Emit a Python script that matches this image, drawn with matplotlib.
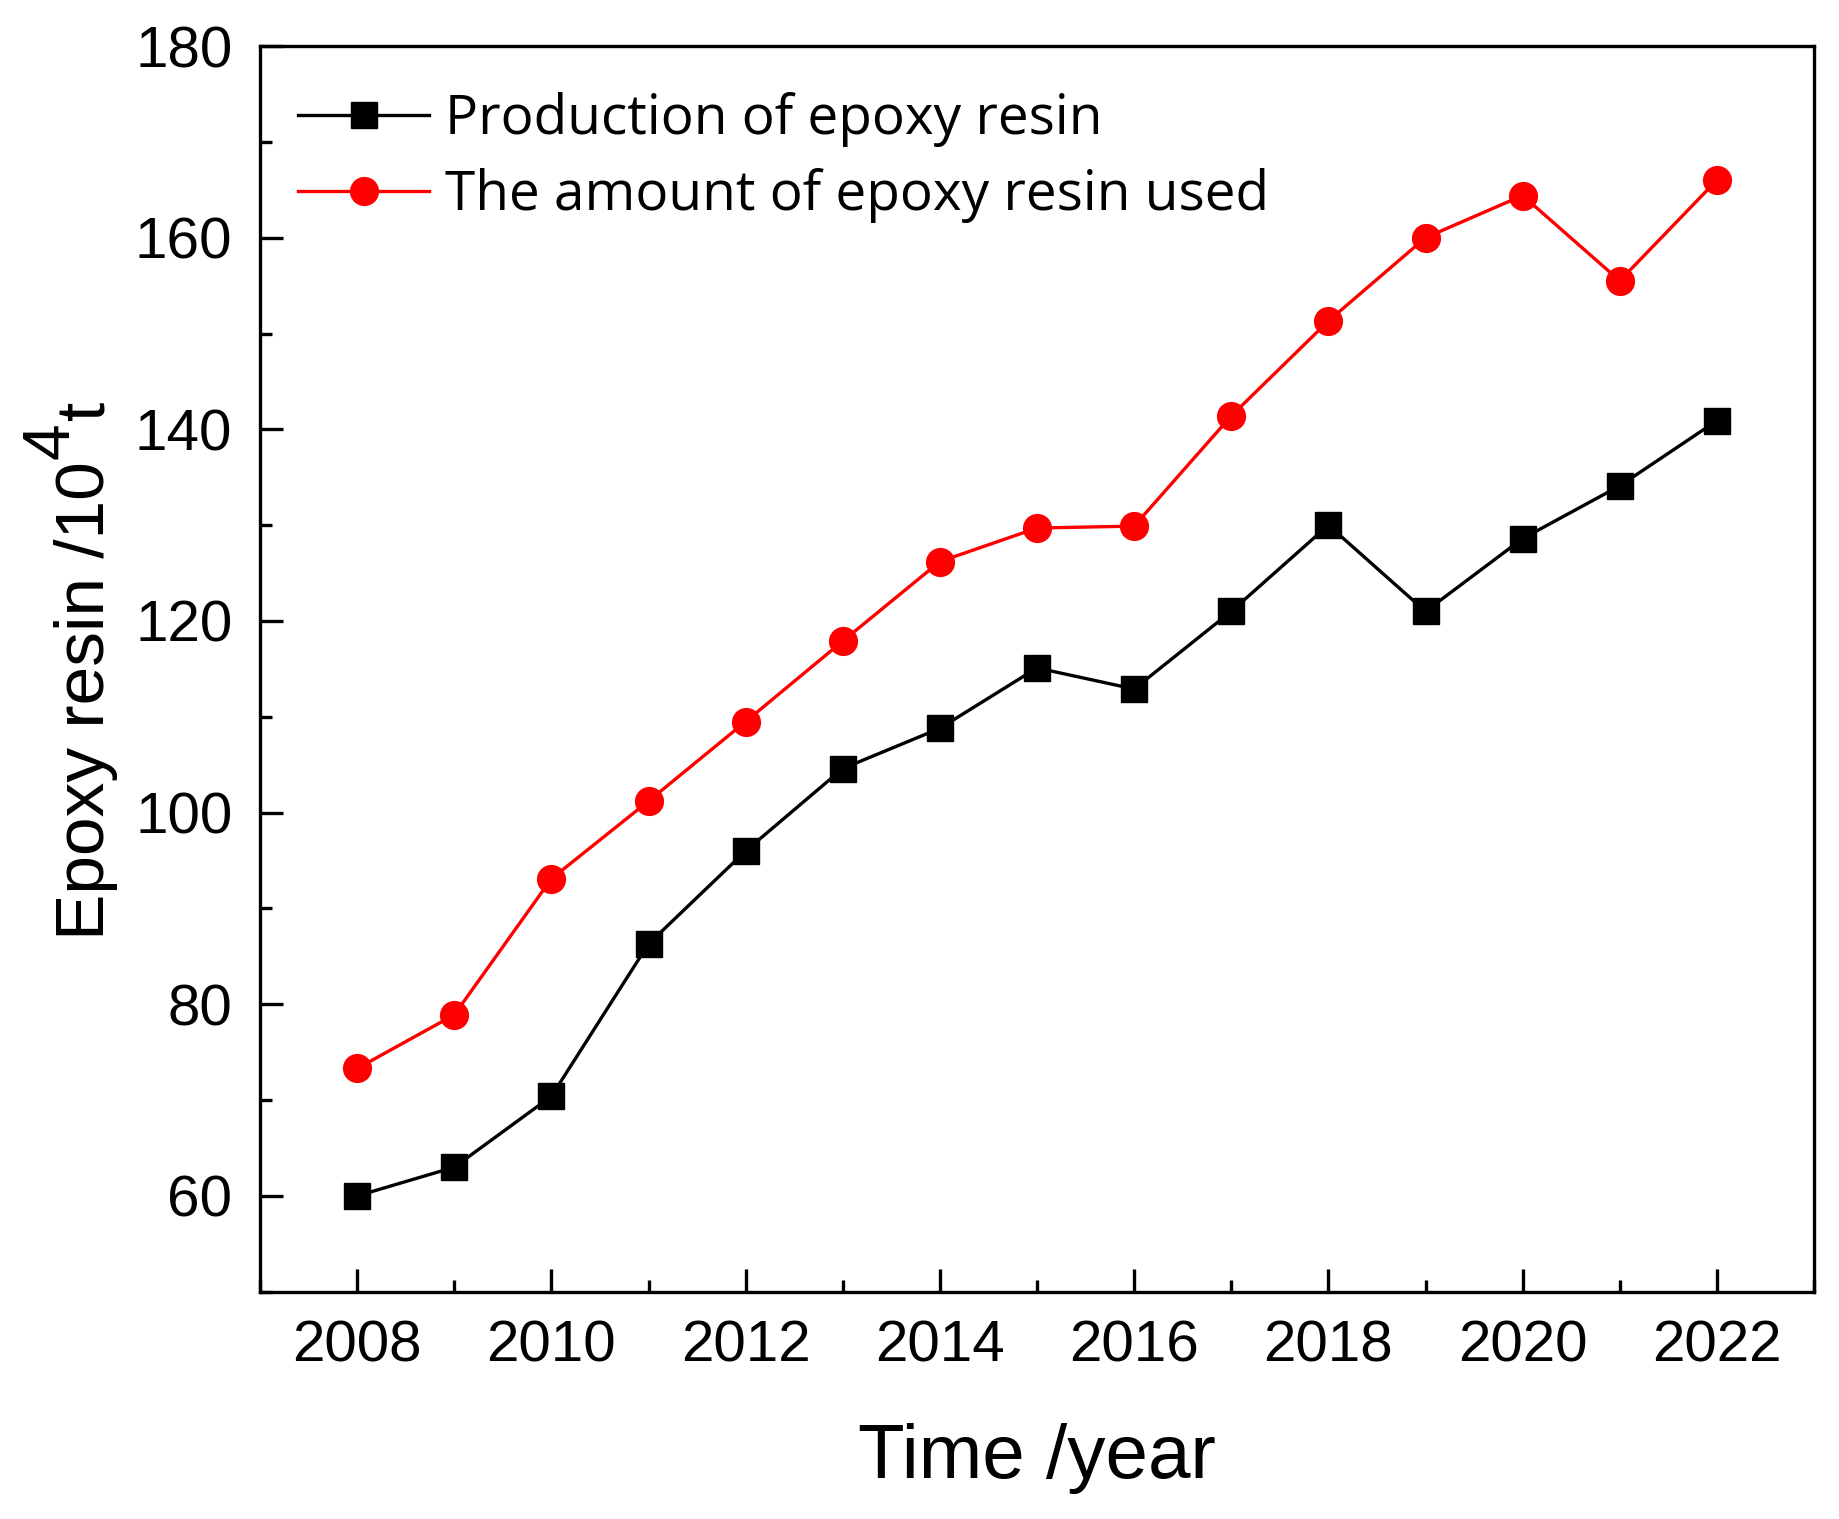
import matplotlib
matplotlib.use("Agg")
import matplotlib.pyplot as plt
from matplotlib.ticker import MultipleLocator

# data
years = [2008, 2009, 2010, 2011, 2012, 2013, 2014, 2015,
         2016, 2017, 2018, 2019, 2020, 2021, 2022]
production = [60.0, 63.0, 70.4, 86.3, 96.0, 104.6, 108.8, 115.1,
              112.9, 121.0, 130.0, 121.0, 128.6, 134.1, 140.9]
used = [73.3, 78.9, 93.1, 101.2, 109.5, 117.9, 126.2, 129.7,
        129.9, 141.4, 151.3, 160.0, 164.4, 155.5, 166.0]
labels = ["Production of epoxy resin", "The amount of epoxy resin used"]

plt.rcParams['font.family'] = ['Liberation Sans', 'DejaVu Sans']

W, H = 1839, 1519
fig = plt.figure(figsize=(W / 100, H / 100), dpi=100)
ax = fig.add_axes([0.1414, 0.1496, 0.8450, 0.8201])

ax.plot(years, production, color="black", marker="s", markersize=19,
        linewidth=2.4, label=labels[0])
ax.plot(years, used, color="red", marker="o", markersize=20,
        linewidth=2.4, label=labels[1])

ax.set_xlim(2007, 2023)
ax.set_ylim(50, 180)
ax.xaxis.set_major_locator(MultipleLocator(2))
ax.xaxis.set_minor_locator(MultipleLocator(1))
ax.set_yticks(range(60, 181, 20))
ax.yaxis.set_minor_locator(MultipleLocator(10))

for s in ax.spines.values():
    s.set_linewidth(2.4)
ax.tick_params(which="both", direction="in", width=2.4, top=False, right=False)
ax.tick_params(which="major", length=16.5, labelsize=42, pad=20)
ax.tick_params(which="minor", length=8.6)

ax.set_xlabel("Time /year", fontsize=55)
ax.xaxis.set_label_coords(0.5, -0.105)

# y label built from pieces so the superscript 4 can be almost full size
ylab_size = 50
base_x = 104 / W
t1 = fig.text(base_x, (H - 940) / H, "Epoxy resin /10", fontsize=ylab_size,
              rotation=90, rotation_mode="anchor", ha="left", va="baseline")
fig.canvas.draw()
r = fig.canvas.get_renderer()
top = t1.get_window_extent(r).y1
t2 = fig.text(base_x - 36 / W, (top + 2) / H, "4", fontsize=ylab_size * 0.95,
              rotation=90, rotation_mode="anchor", ha="left", va="baseline")
top2 = t2.get_window_extent(r).y1
fig.text(base_x, (top2 + 2) / H, "t", fontsize=ylab_size,
         rotation=90, rotation_mode="anchor", ha="left", va="baseline")

ax.legend(loc="upper left", bbox_to_anchor=(0.0243, 0.963), frameon=False,
          borderpad=0, borderaxespad=0, handlelength=2.4, handletextpad=0.28,
          labelspacing=0.38, prop={"family": "Open Sans", "size": 39.5})

fig.savefig("out.png", dpi=100)
